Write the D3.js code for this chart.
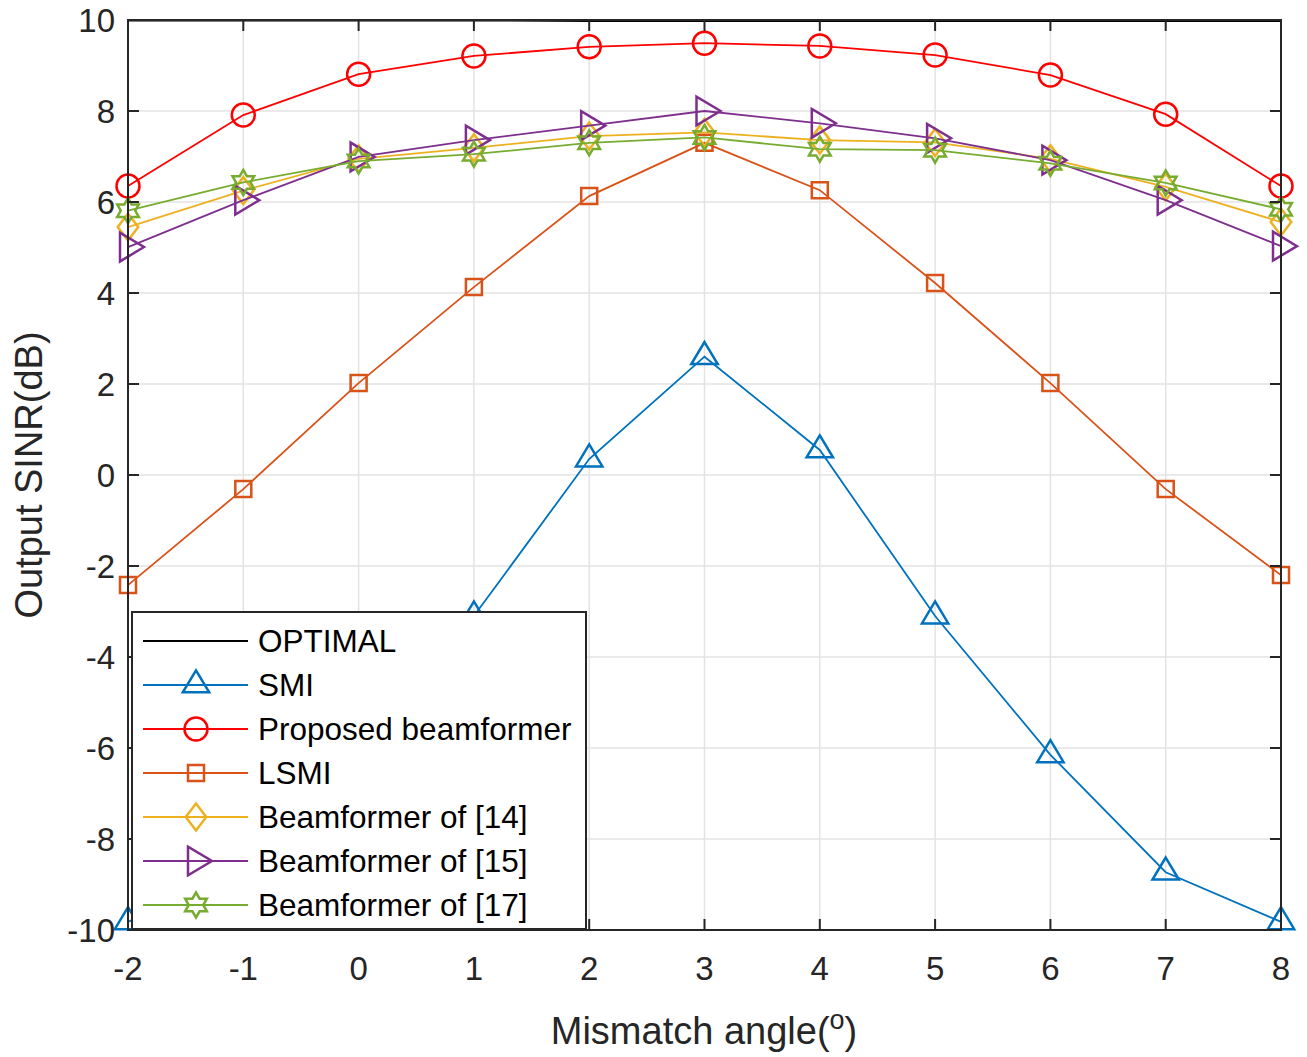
<!DOCTYPE html>
<html>
<head>
<meta charset="utf-8">
<script src="https://cdn.jsdelivr.net/npm/d3@7"></script>
<style>
  html, body { margin: 0; padding: 0; background: #fff; }
  svg { display: block; }
  text { font-family: "Liberation Sans", Arial, Helvetica, sans-serif; fill: #262626; }
</style>
</head>
<body>
<svg id="chart" width="1307" height="1057"></svg>
<script>
// ---------- data ----------
const angles = [-2, -1, 0, 1, 2, 3, 4, 5, 6, 7, 8];
const xTicks = [-2, -1, 0, 1, 2, 3, 4, 5, 6, 7, 8];
const yTicks = [-10, -8, -6, -4, -2, 0, 2, 4, 6, 8, 10];

const optimal  = [9.99, 9.99, 9.99, 9.99, 9.98, 9.98, 9.98, 9.98, 9.98, 9.98, 9.98];
const smi      = [-9.82, -8.7, -6.1, -3.1, 0.35, 2.6, 0.55, -3.1, -6.15, -8.73, -9.82];
const proposed = [6.35, 7.91, 8.81, 9.21, 9.41, 9.49, 9.43, 9.23, 8.79, 7.93, 6.35];
const lsmi     = [-2.42, -0.31, 2.02, 4.13, 6.13, 7.30, 6.26, 4.22, 2.02, -0.31, -2.2];
const bf14     = [5.45, 6.25, 6.95, 7.19, 7.45, 7.53, 7.36, 7.31, 6.95, 6.33, 5.56];
const bf15     = [5.01, 6.04, 6.99, 7.36, 7.68, 8.0, 7.73, 7.4, 6.92, 6.04, 5.03];
const bf17     = [5.81, 6.43, 6.9, 7.05, 7.3, 7.42, 7.16, 7.14, 6.85, 6.42, 5.84];

const seriesNames  = ["OPTIMAL", "SMI", "Proposed beamformer", "LSMI", "Beamformer of [14]", "Beamformer of [15]", "Beamformer of [17]"];
const seriesValues = [optimal, smi, proposed, lsmi, bf14, bf15, bf17];
const seriesColors = ["#000000", "#0072BD", "#FF0000", "#D95319", "#EDB120", "#7E2F8E", "#77AC30"];
const seriesMarkers = ["none", "triangle", "circle", "square", "diamond", "rtriangle", "hexagram"];

// ---------- layout ----------
const W = 1307, H = 1057;
const m = { left: 128, right: 26, top: 20, bottom: 127 };
const svg = d3.select("#chart");
const x = d3.scaleLinear().domain([-2, 8]).range([m.left, W - m.right]);
const y = d3.scaleLinear().domain([-10, 10]).range([H - m.bottom, m.top]);
const axisColor = "#262626";

// grid
const g = svg.append("g");
g.selectAll(".gx").data(xTicks).enter().append("line")
  .attr("x1", d => x(d)).attr("x2", d => x(d))
  .attr("y1", y(-10)).attr("y2", y(10))
  .attr("stroke", "#e3e3e3").attr("stroke-width", 1.5);
g.selectAll(".gy").data(yTicks).enter().append("line")
  .attr("x1", x(-2)).attr("x2", x(8))
  .attr("y1", d => y(d)).attr("y2", d => y(d))
  .attr("stroke", "#e3e3e3").attr("stroke-width", 1.5);

// marker path generator
function markerPath(type, s) {
  switch (type) {
    case "circle": {
      const r = s * 0.5;
      return `M${r},0A${r},${r} 0 1,1 ${-r},0A${r},${r} 0 1,1 ${r},0Z`;
    }
    case "triangle": {
      const w = s * 1.2, h = s;
      return `M0,${-2*h/3}L${w/2},${h/3}L${-w/2},${h/3}Z`;
    }
    case "rtriangle": {
      const w = s * 1.2, h = s;
      return `M${2*h/3},0L${-h/3},${w/2}L${-h/3},${-w/2}Z`;
    }
    case "square": {
      const a = s * 0.5;
      return `M${-a},${-a}L${a},${-a}L${a},${a}L${-a},${a}Z`;
    }
    case "diamond": {
      const a = s * 0.5, b = s * 0.38;
      return `M0,${-a}L${b},0L0,${a}L${-b},0Z`;
    }
    case "hexagram": {
      const R = s * 0.5, r = R / Math.sqrt(3);
      let p = "";
      for (let i = 0; i < 12; i++) {
        const ang = -Math.PI / 2 + i * Math.PI / 6;
        const rad = i % 2 === 0 ? R : r;
        p += (i === 0 ? "M" : "L") + (rad * Math.cos(ang)).toFixed(2) + "," + (rad * Math.sin(ang)).toFixed(2);
      }
      return p + "Z";
    }
  }
  return "";
}
const markerSize = { circle: 23, triangle: 22, rtriangle: 24, square: 16, diamond: 27, hexagram: 25 };

// series
const line = d3.line().x((d, i) => x(angles[i])).y(d => y(d));
const plot = svg.append("g");
seriesValues.forEach((vals, k) => {
  plot.append("path").datum(vals)
    .attr("d", line)
    .attr("fill", "none")
    .attr("stroke", seriesColors[k])
    .attr("stroke-width", k === 0 ? 2 : 1.8);
  if (seriesMarkers[k] !== "none") {
    plot.selectAll(null).data(vals).enter().append("path")
      .attr("transform", (d, i) => `translate(${x(angles[i])},${y(d)})`)
      .attr("d", markerPath(seriesMarkers[k], markerSize[seriesMarkers[k]]))
      .attr("fill", "none")
      .attr("stroke", seriesColors[k])
      .attr("stroke-width", 2.5);
  }
});

// axes box
const tickLen = 11;
const ax = svg.append("g");
ax.append("rect")
  .attr("x", x(-2)).attr("y", y(10))
  .attr("width", x(8) - x(-2)).attr("height", y(-10) - y(10))
  .attr("fill", "none").attr("stroke", axisColor).attr("stroke-width", 2);
// ticks (inward, both sides)
xTicks.forEach(t => {
  ax.append("line").attr("x1", x(t)).attr("x2", x(t)).attr("y1", y(-10)).attr("y2", y(-10) - tickLen).attr("stroke", axisColor).attr("stroke-width", 2);
  ax.append("line").attr("x1", x(t)).attr("x2", x(t)).attr("y1", y(10)).attr("y2", y(10) + tickLen).attr("stroke", axisColor).attr("stroke-width", 2);
});
yTicks.forEach(t => {
  ax.append("line").attr("x1", x(-2)).attr("x2", x(-2) + tickLen).attr("y1", y(t)).attr("y2", y(t)).attr("stroke", axisColor).attr("stroke-width", 2);
  ax.append("line").attr("x1", x(8)).attr("x2", x(8) - tickLen).attr("y1", y(t)).attr("y2", y(t)).attr("stroke", axisColor).attr("stroke-width", 2);
});
// tick labels
ax.selectAll(".xl").data(xTicks).enter().append("text")
  .attr("x", d => x(d)).attr("y", y(-10) + 50)
  .attr("text-anchor", "middle").attr("font-size", 33)
  .text(d => d);
ax.selectAll(".yl").data(yTicks).enter().append("text")
  .attr("x", x(-2) - 13).attr("y", d => y(d) + 12)
  .attr("text-anchor", "end").attr("font-size", 33)
  .text(d => d);

// axis titles
const xt = svg.append("text")
  .attr("x", 704).attr("y", 1044)
  .attr("text-anchor", "middle").attr("font-size", 38);
xt.append("tspan").text("Mismatch angle(");
xt.append("tspan").attr("font-size", 27).attr("dy", -15).text("o");
xt.append("tspan").attr("dy", 15).text(")");

svg.append("text")
  .attr("transform", `translate(42,${y(0)}) rotate(-90)`)
  .attr("text-anchor", "middle").attr("font-size", 38)
  .text("Output SINR(dB)");

// legend
const lg = svg.append("g");
const lx = 132, ly = 612, lw = 454, lh = 317;
lg.append("rect").attr("x", lx).attr("y", ly).attr("width", lw).attr("height", lh)
  .attr("fill", "#fff").attr("stroke", axisColor).attr("stroke-width", 2);
seriesNames.forEach((name, k) => {
  const cy = 641 + k * 44;
  lg.append("line").attr("x1", 143).attr("x2", 248).attr("y1", cy).attr("y2", cy)
    .attr("stroke", seriesColors[k]).attr("stroke-width", k === 0 ? 2 : 1.8);
  if (seriesMarkers[k] !== "none") {
    lg.append("path").attr("transform", `translate(196,${cy})`)
      .attr("d", markerPath(seriesMarkers[k], markerSize[seriesMarkers[k]]))
      .attr("fill", "none").attr("stroke", seriesColors[k]).attr("stroke-width", 2.5);
  }
  lg.append("text").attr("x", 258).attr("y", cy + 11).attr("font-size", 31.5)
    .style("fill", "#000").text(name);
});
</script>
</body>
</html>
